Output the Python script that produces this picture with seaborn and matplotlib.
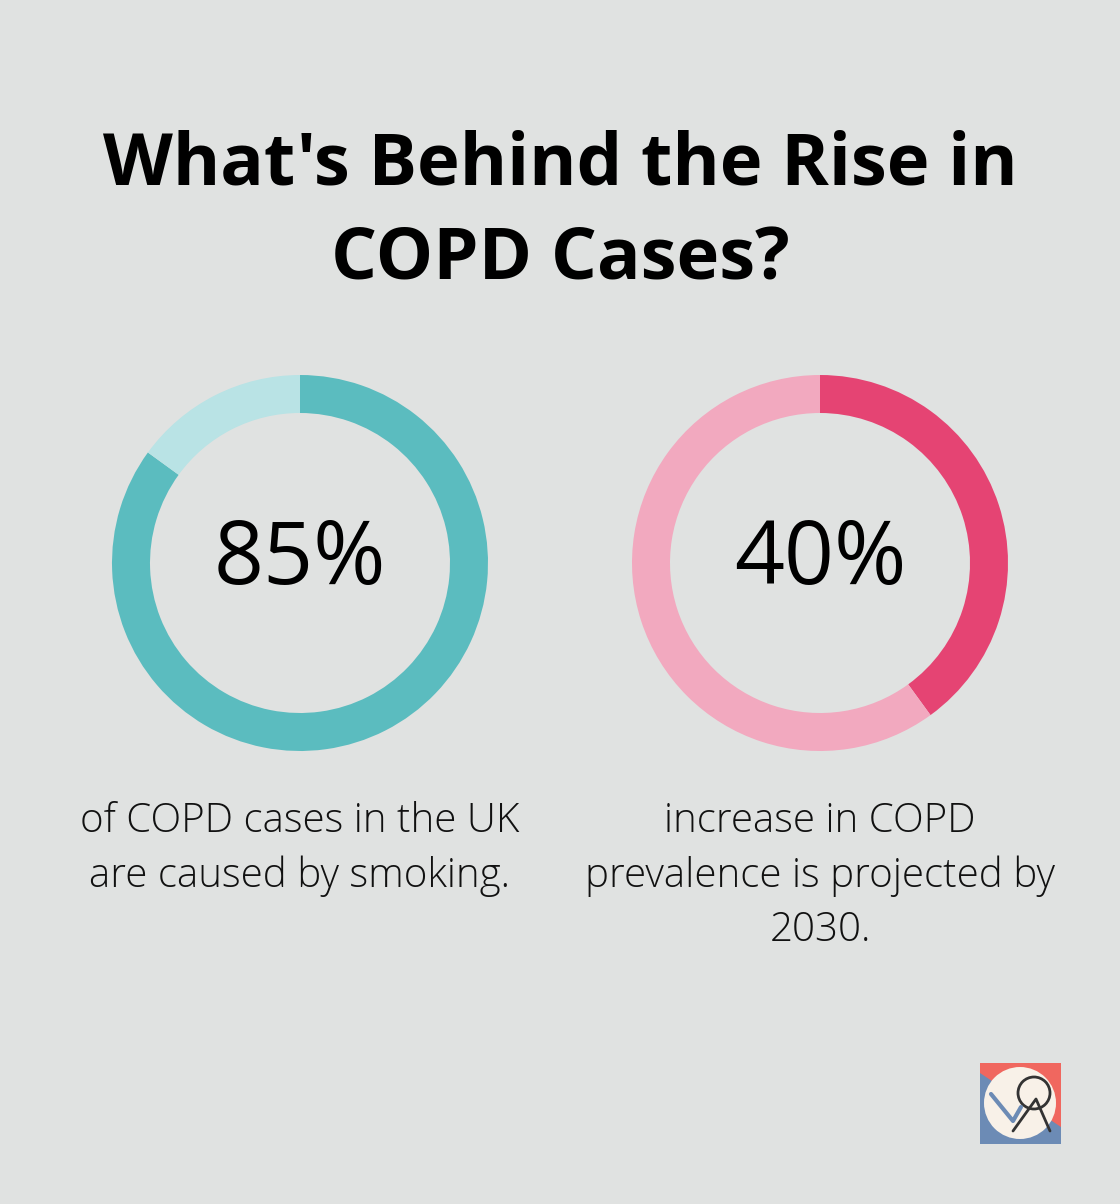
import matplotlib
matplotlib.use("Agg")
import matplotlib.pyplot as plt
import seaborn as sns
from matplotlib.patches import Polygon, Circle, Rectangle
from matplotlib.lines import Line2D

# ---- data ----
percent_values = [85, 40]
percent_labels = ["85%", "40%"]
descriptions = ["of COPD cases in the UK\nare caused by smoking.",
                "increase in COPD\nprevalence is projected by\n2030."]
dark_colors = ["#5BBCBF", "#E54473"]
light_colors = ["#B9E3E5", "#F2A9BF"]
title_text = "What's Behind the Rise in\nCOPD Cases?"

sns.set_theme(style="white")
plt.rcParams['font.family'] = ['Open Sans', 'DejaVu Sans']

BG = "#E0E2E1"
W, H = 1120, 1204
fig = plt.figure(figsize=(W / 100, H / 100), dpi=100, facecolor=BG)
ax = fig.add_axes([0, 0, 1, 1])
ax.set_facecolor(BG)

def Y(py):
    return H - py

centers = [300, 820]
for cx, val, lab, desc, dc, lc in zip(centers, percent_values, percent_labels,
                                      descriptions, dark_colors, light_colors):
    ax.pie([val, 100 - val], colors=[dc, lc], startangle=90, counterclock=False,
           radius=188, center=(cx, Y(563)), wedgeprops=dict(width=38, linewidth=0),
           frame=True)
    ax.text(cx, Y(561), lab, ha="center", va="center", fontsize=63,
            fontweight="medium", color="#000000")
    ax.text(cx, Y(801), desc, ha="center", va="top", fontsize=29, fontweight="light",
            color="#111111", linespacing=1.42)

ax.set_xlim(0, W)
ax.set_ylim(0, H)
ax.set_aspect("equal")
ax.axis("off")

# title
ax.text(560, Y(213), title_text, ha="center", va="center", fontsize=52,
        fontweight="bold", color="#000000", linespacing=1.43)

# logo
x0, y0 = 980, 1063
ax.add_patch(Rectangle((x0, Y(y0 + 81)), 81, 81, facecolor="#6C8BB5", edgecolor="none"))
ax.add_patch(Polygon([(x0, Y(y0)), (x0 + 81, Y(y0)), (x0 + 81, Y(y0 + 64)), (x0, Y(y0 + 10))],
                     closed=True, facecolor="#F0675F", edgecolor="none"))
ax.add_patch(Circle((x0 + 40, Y(y0 + 40)), 36, facecolor="#F8F1E8", edgecolor="none"))
ax.add_line(Line2D([x0 + 11, x0 + 33, x0 + 41], [Y(y0 + 31), Y(y0 + 58), Y(y0 + 44)],
                   color="#6C8BB5", lw=3))
ax.add_line(Line2D([x0 + 33, x0 + 56, x0 + 70], [Y(y0 + 68), Y(y0 + 36), Y(y0 + 68)],
                   color="#333333", lw=2))
ax.add_patch(Circle((x0 + 54, Y(y0 + 30)), 16, facecolor="none", edgecolor="#333333", lw=2))

fig.savefig("out.png", dpi=100, facecolor=BG)
